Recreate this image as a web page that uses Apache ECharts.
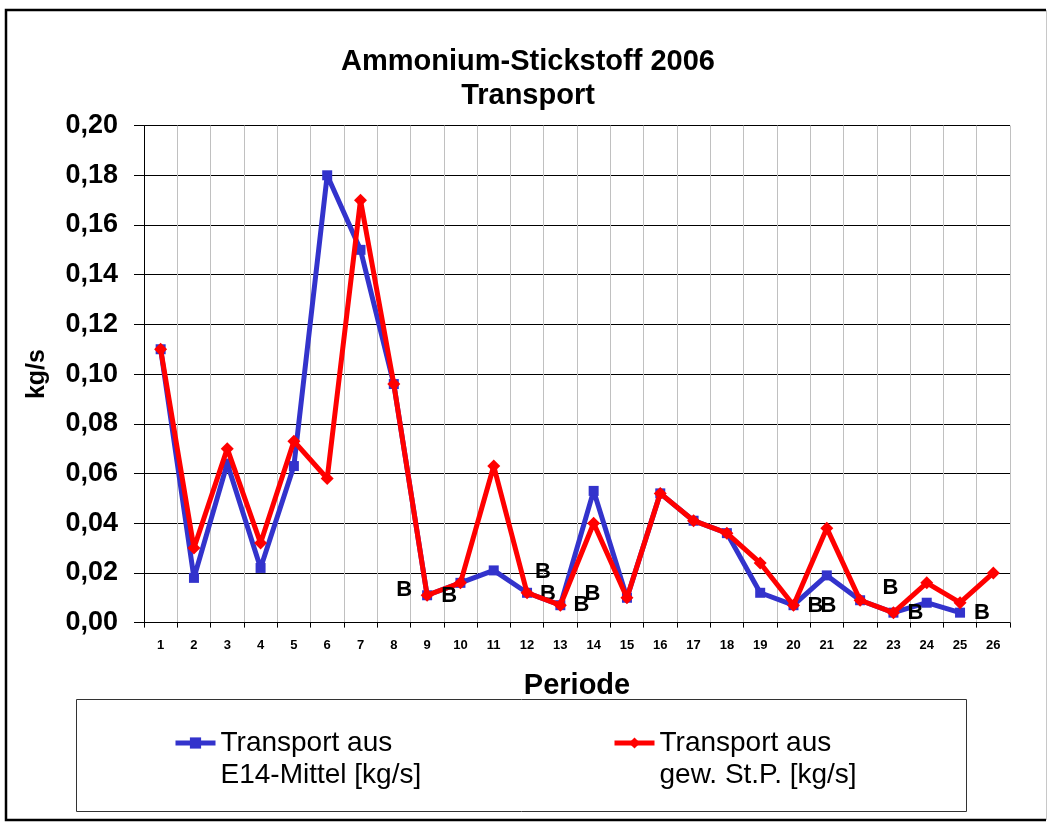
<!DOCTYPE html>
<html>
<head>
<meta charset="utf-8">
<title>Ammonium-Stickstoff 2006</title>
<script src="https://cdn.jsdelivr.net/npm/echarts@6/dist/echarts.min.js"></script>
<style>
  html, body { margin: 0; padding: 0; background: #fff; }
  #chart { width: 1048px; height: 825px; }
</style>
</head>
<body>
<div id="chart"></div>
<script>
// Perioden 1..26
var periods = ['1', '2', '3', '4', '5', '6', '7', '8', '9', '10', '11', '12', '13',
  '14', '15', '16', '17', '18', '19', '20', '21', '22', '23', '24', '25', '26'];

// Transport aus E14-Mittel [kg/s]
var e14Mittel = [0.110, 0.018, 0.064, 0.022, 0.063, 0.180, 0.150, 0.096, 0.011, 0.016,
  0.021, 0.012, 0.007, 0.053, 0.010, 0.052, 0.041, 0.036, 0.012, 0.007,
  0.019, 0.009, 0.004, 0.008, 0.004, null];

// Transport aus gew. St.P. [kg/s]
var gewStP = [0.110, 0.030, 0.070, 0.032, 0.073, 0.058, 0.170, 0.096, 0.011, 0.016,
  0.063, 0.012, 0.007, 0.040, 0.010, 0.052, 0.041, 0.036, 0.024, 0.007,
  0.038, 0.009, 0.004, 0.016, 0.008, 0.020];

// Perioden mit "B" Kennzeichnung
var bE14 = [9, 12, 13, 20, 23, 25];
var bStP = [9, 12, 13, 20, 23];

var yTicks = { min: 0, max: 0.2, step: 0.02 };

var nameE14 = 'Transport aus\nE14-Mittel [kg/s]';
var nameStP = 'Transport aus\ngew. St.P. [kg/s]';

// Label-Versatz der "B" (Pixel, nur Darstellung)
var offE14 = { 9: [-23, -5], 12: [21, 1], 13: [21, 0], 20: [22, 1], 23: [22, 0], 25: [22, 0] };
var offStP = { 9: [22, 1], 12: [16, -21], 13: [32, -11], 20: [35, 1], 23: [-3, -25] };

var font = 'Liberation Sans, Arial, sans-serif';

function withB(values, flagged, offsets) {
  return values.map(function (v, i) {
    var p = i + 1;
    if (flagged.indexOf(p) < 0) return v;
    return {
      value: v,
      label: {
        show: true,
        formatter: 'B',
        position: 'inside',
        offset: offsets[p],
        color: '#000',
        fontFamily: font,
        fontWeight: 'bold',
        fontSize: 22
      }
    };
  });
}

var chart = echarts.init(document.getElementById('chart'), null, { renderer: 'canvas' });

// leere erste Zeile, damit das Symbol auf Höhe der ersten Textzeile sitzt
var legendText = {
  fontFamily: font,
  fontSize: 28,
  color: '#000',
  lineHeight: 32
};
function legendFmt(n) { return '\n' + n; }

var option = {
  backgroundColor: '#fff',
  animation: false,
  title: {
    text: 'Ammonium-Stickstoff 2006\nTransport',
    left: 528,
    top: 45,
    textAlign: 'center',
    padding: 0,
    textStyle: {
      fontFamily: font,
      fontWeight: 'bold',
      fontSize: 29,
      lineHeight: 34,
      color: '#000'
    }
  },
  legend: [{
    data: [nameE14],
    left: 173,
    top: 695,
    padding: 0,
    itemWidth: 40,
    itemHeight: 14,
    formatter: legendFmt,
    textStyle: legendText,
    lineStyle: { width: 5 }
  }, {
    data: [nameStP],
    left: 612,
    top: 695,
    padding: 0,
    itemWidth: 40,
    itemHeight: 14,
    formatter: legendFmt,
    textStyle: legendText,
    lineStyle: { width: 5 }
  }],
  grid: {
    left: 144,
    right: 38,
    top: 125.6,
    bottom: 202.4,
    containLabel: false
  },
  xAxis: {
    type: 'category',
    data: periods,
    boundaryGap: true,
    name: 'Periode',
    nameLocation: 'middle',
    nameGap: 49,
    nameTextStyle: { fontFamily: font, fontWeight: 'bold', fontSize: 29, color: '#000' },
    axisLine: { show: true, lineStyle: { color: '#000', width: 1 } },
    axisTick: { show: true, length: 5, alignWithLabel: false, lineStyle: { color: '#000' } },
    axisLabel: {
      fontFamily: font, fontWeight: 'bold', fontSize: 13, color: '#000', margin: 16, interval: 0
    },
    splitLine: { show: true, lineStyle: { color: '#c0c0c0', width: 1 } }
  },
  yAxis: {
    type: 'value',
    min: yTicks.min,
    max: yTicks.max,
    interval: yTicks.step,
    name: 'kg/s',
    nameLocation: 'middle',
    nameRotate: 90,
    nameGap: 94,
    nameTextStyle: { fontFamily: font, fontWeight: 'bold', fontSize: 25, color: '#000' },
    axisLine: { show: true, lineStyle: { color: '#000', width: 1 } },
    axisTick: { show: true, length: 10, lineStyle: { color: '#000' } },
    axisLabel: {
      fontFamily: font, fontWeight: 'bold', fontSize: 27, color: '#000', margin: 26,
      formatter: function (v) { return v.toFixed(2).replace('.', ','); }
    },
    splitLine: { show: true, lineStyle: { color: '#000', width: 1 } }
  },
  series: [{
    name: nameE14,
    type: 'line',
    data: withB(e14Mittel, bE14, offE14),
    connectNulls: false,
    symbol: 'rect',
    symbolSize: 10,
    lineStyle: { color: '#3333cc', width: 5 },
    itemStyle: { color: '#3333cc' },
    z: 2
  }, {
    name: nameStP,
    type: 'line',
    data: withB(gewStP, bStP, offStP),
    symbol: 'diamond',
    symbolSize: 13,
    lineStyle: { color: '#ff0000', width: 5 },
    itemStyle: { color: '#ff0000' },
    z: 3
  }],
  graphic: [{
    type: 'polyline',
    shape: { points: [[1046, 10], [6, 10], [6, 820], [1046, 820]] },
    style: { fill: null, stroke: '#000', lineWidth: 2.5 },
    z: -1
  }, {
    type: 'line',
    shape: { x1: 1046.5, y1: 10, x2: 1046.5, y2: 820 },
    style: { stroke: '#c8c8c8', lineWidth: 1 },
    z: -1
  }, {
    type: 'rect',
    shape: { x: 76.5, y: 699.5, width: 890, height: 112 },
    style: { fill: null, stroke: '#333', lineWidth: 1 },
    z: -1
  }]
};

chart.setOption(option);
</script>
</body>
</html>
